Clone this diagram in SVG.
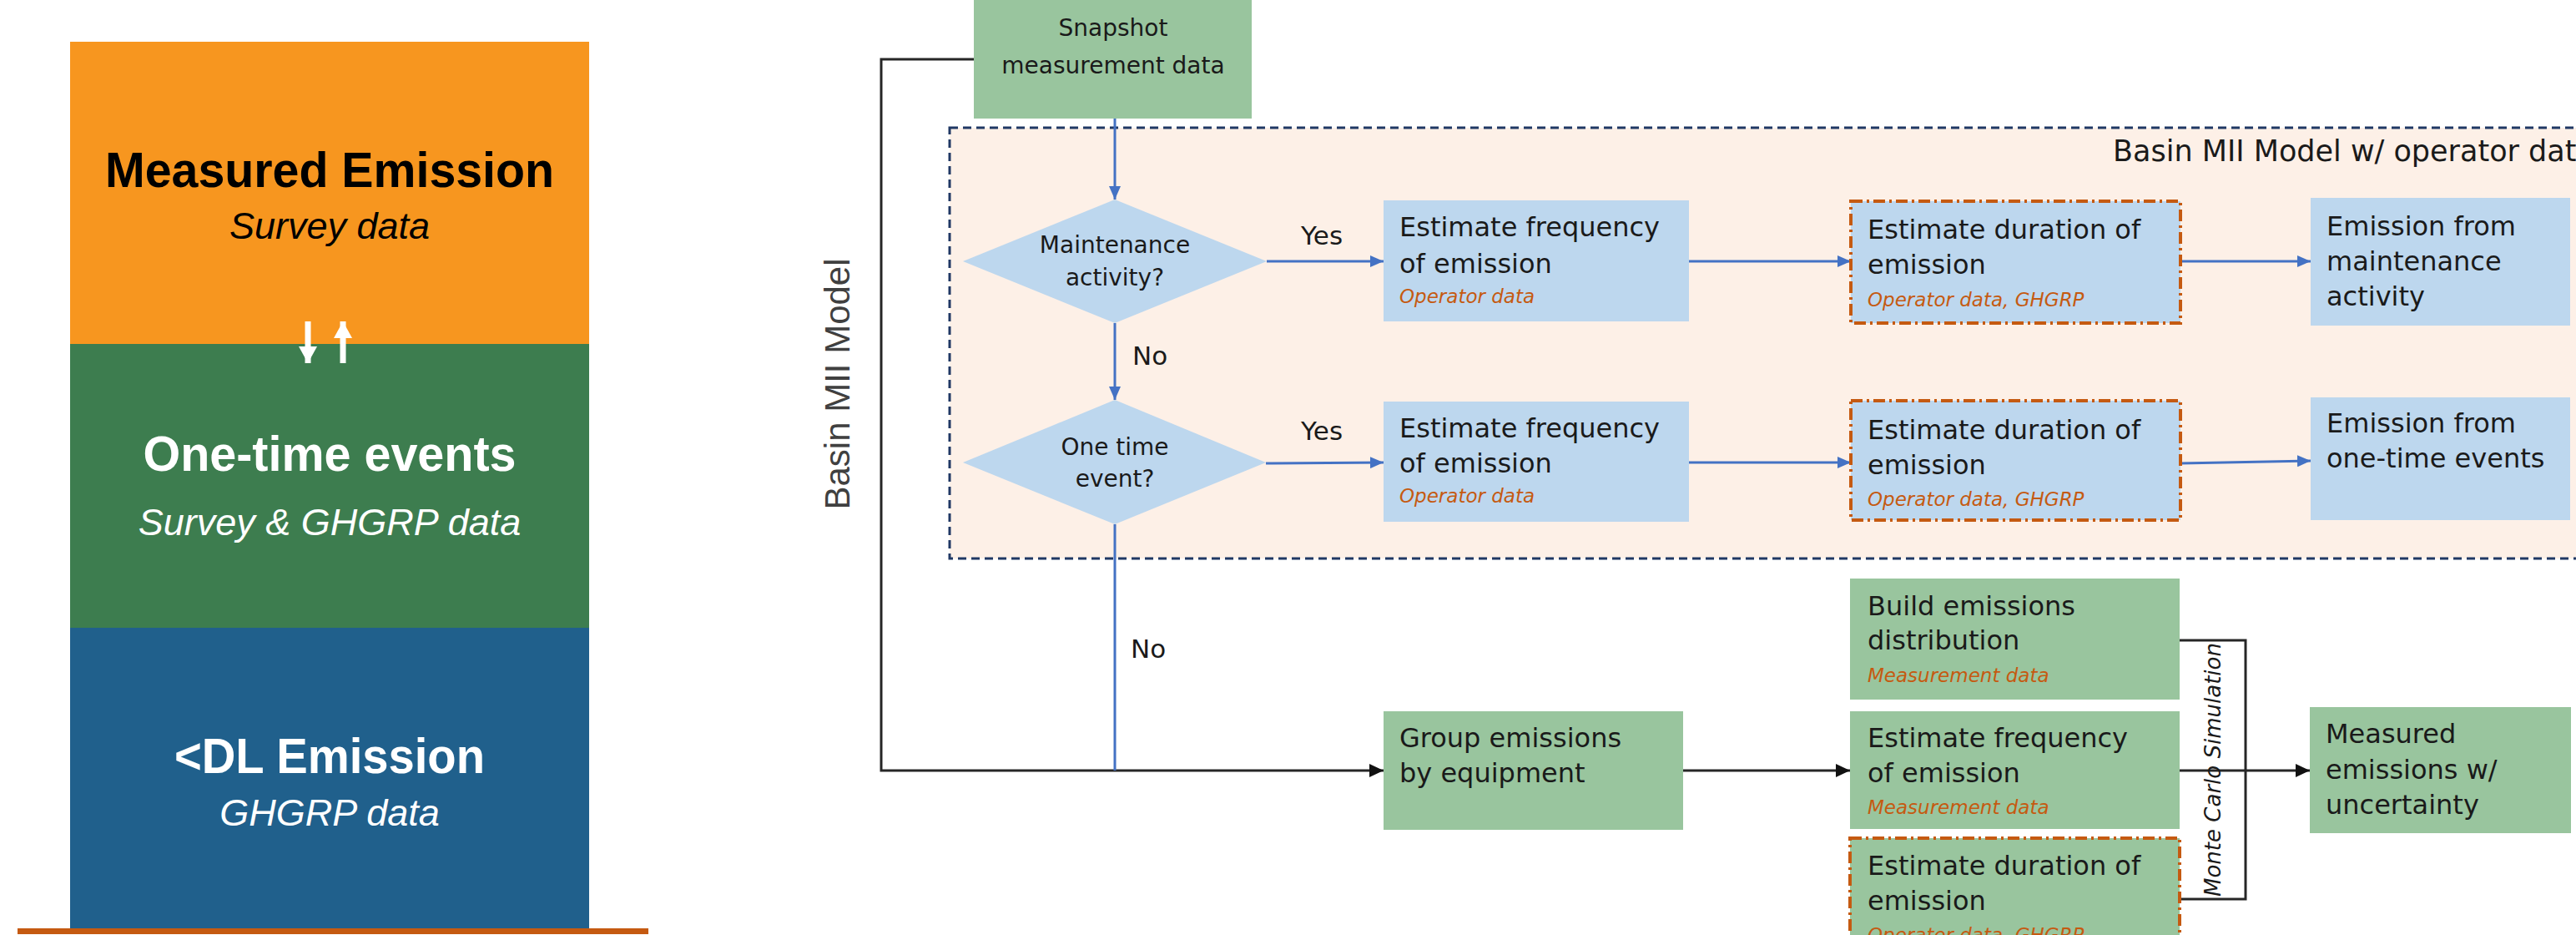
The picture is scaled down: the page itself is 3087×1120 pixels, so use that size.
<svg xmlns="http://www.w3.org/2000/svg" width="3087" height="1120" viewBox="0 0 3087 1120">
<style>
.big{font-family:"Liberation Sans",Arial,sans-serif;font-size:60px;font-weight:bold;text-anchor:middle}
.sub{font-family:"Liberation Sans",Arial,sans-serif;font-size:45px;font-style:italic;text-anchor:middle}
.t{font-family:"DejaVu Sans","Liberation Sans",sans-serif;font-size:32px;fill:#1a1a1a}
.d{font-family:"DejaVu Sans","Liberation Sans",sans-serif;font-size:28px;fill:#1a1a1a;text-anchor:middle}
.lbl{font-family:"DejaVu Sans","Liberation Sans",sans-serif;font-size:31px;fill:#1a1a1a}
.src{font-family:"DejaVu Sans","Liberation Sans",sans-serif;font-size:23px;font-style:italic;fill:#C55A11}
.gbox{fill:#99C59E}
.bbox{fill:#BDD7EE}
.dd{stroke:#C55A11;stroke-width:4;stroke-dasharray:14 5 3 5}
.blue{stroke:#4472C4;stroke-width:3;fill:none}
.blk{stroke:#262626;stroke-width:3;fill:none}
</style>
<defs>
<marker id="ab" markerUnits="userSpaceOnUse" markerWidth="16" markerHeight="14" refX="16" refY="7" orient="auto"><path d="M0,0 L16,7 L0,14 z" fill="#4472C4"/></marker>
<marker id="ak" markerUnits="userSpaceOnUse" markerWidth="17" markerHeight="16" refX="17" refY="8" orient="auto"><path d="M0,0 L17,8 L0,16 z" fill="#111"/></marker>
<marker id="aw" markerUnits="userSpaceOnUse" markerWidth="20" markerHeight="22" refX="20" refY="11" orient="auto"><path d="M0,0 L20,11 L0,22 z" fill="#fff"/></marker>
</defs>
<rect width="3087" height="1120" fill="#fff"/>

<!-- Left stacked panel -->
<g id="measured-emission">
<rect x="84" y="50" width="622" height="362" fill="#F7961F"/>
<text class="big" x="395" y="224" fill="#000" textLength="538" lengthAdjust="spacingAndGlyphs">Measured Emission</text>
<text class="sub" x="395" y="286" fill="#000">Survey data</text>
</g>
<g id="one-time-events">
<rect x="84" y="412" width="622" height="340" fill="#3D7D4F"/>
<text class="big" x="395" y="564" fill="#fff" textLength="447" lengthAdjust="spacingAndGlyphs">One-time events</text>
<text class="sub" x="395" y="641" fill="#fff">Survey &amp; GHGRP data</text>
</g>
<g id="dl-emission">
<rect x="84" y="752" width="622" height="362" fill="#20608C"/>
<text class="big" x="395" y="926" fill="#fff" textLength="372" lengthAdjust="spacingAndGlyphs">&lt;DL Emission</text>
<text class="sub" x="395" y="989" fill="#fff">GHGRP data</text>
</g>
<g id="left-arrows">
<line x1="369" y1="385" x2="369" y2="435" stroke="#fff" stroke-width="7" marker-end="url(#aw)"/>
<line x1="411" y1="435" x2="411" y2="385" stroke="#fff" stroke-width="7" marker-end="url(#aw)"/>
</g>
<rect x="21" y="1112" width="756" height="7" fill="#C55A11"/>

<!-- Container -->
<g id="container">
<rect x="1138" y="153" width="2000" height="516" fill="#FDF0E7" stroke="#203864" stroke-width="3" stroke-dasharray="10 6"/>
<text x="2532" y="193" font-family="DejaVu Sans, Liberation Sans, sans-serif" font-size="35" fill="#1a1a1a">Basin MII Model w/ operator data</text>
</g>
<text transform="translate(1018,460) rotate(-90)" text-anchor="middle" font-family="Liberation Sans, Arial, sans-serif" font-size="42" fill="#404040">Basin MII Model</text>

<!-- Connectors -->
<g id="connectors">
<polyline class="blk" points="1167,71 1056,71 1056,923 1658,923" marker-end="url(#ak)"/>
<line class="blue" x1="1336" y1="142" x2="1336" y2="239" marker-end="url(#ab)"/>
<line class="blue" x1="1518" y1="313" x2="1658" y2="313" marker-end="url(#ab)"/>
<line class="blue" x1="1336" y1="387" x2="1336" y2="479" marker-end="url(#ab)"/>
<line class="blue" x1="1517" y1="555" x2="1658" y2="554" marker-end="url(#ab)"/>
<line class="blue" x1="1336" y1="628" x2="1336" y2="923" stroke-width="2"/>
<line class="blue" x1="2024" y1="313" x2="2218" y2="313" marker-end="url(#ab)"/>
<line class="blue" x1="2613" y1="313" x2="2769" y2="313" marker-end="url(#ab)"/>
<line class="blue" x1="2024" y1="554" x2="2218" y2="554" marker-end="url(#ab)"/>
<line class="blue" x1="2613" y1="555" x2="2769" y2="552" marker-end="url(#ab)"/>
<line class="blk" x1="2017" y1="923" x2="2217" y2="923" marker-end="url(#ak)"/>
<polyline class="blk" points="2612,767 2691,767 2691,1077 2612,1077"/>
<line class="blk" x1="2612" y1="923" x2="2768" y2="923" marker-end="url(#ak)"/>
<text transform="translate(2661,922) rotate(-90)" text-anchor="middle" font-family="DejaVu Sans, Liberation Sans, sans-serif" font-size="26" font-style="italic" fill="#1a1a1a">Monte Carlo  Simulation</text>
<text class="lbl" x="1559" y="293">Yes</text>
<text class="lbl" x="1559" y="527">Yes</text>
<text class="lbl" x="1357" y="437">No</text>
<text class="lbl" x="1355" y="788">No</text>
</g>

<!-- Nodes -->
<g id="snapshot">
<rect class="gbox" x="1167" y="0" width="333" height="142"/>
<text class="d" x="1334" y="43" font-size="31">Snapshot</text>
<text class="d" x="1334" y="88" font-size="31">measurement data</text>
</g>
<g id="maintenance-decision">
<polygon class="bbox" points="1336,239 1518,313 1336,387 1154,313"/>
<text class="d" x="1336" y="303">Maintenance</text>
<text class="d" x="1336" y="342">activity?</text>
</g>
<g id="onetime-decision">
<polygon class="bbox" points="1336,479 1517,554 1336,628 1154,554"/>
<text class="d" x="1336" y="545">One time</text>
<text class="d" x="1336" y="583">event?</text>
</g>
<g id="freq-maint">
<rect class="bbox" x="1658" y="240" width="366" height="145"/>
<text class="t" x="1677" y="283">Estimate frequency</text>
<text class="t" x="1677" y="327">of emission</text>
<text class="src" x="1677" y="363">Operator data</text>
</g>
<g id="dur-maint">
<rect class="bbox dd" x="2218" y="241" width="395" height="146"/>
<text class="t" x="2238" y="286">Estimate duration of</text>
<text class="t" x="2238" y="328">emission</text>
<text class="src" x="2238" y="367">Operator data, GHGRP</text>
</g>
<g id="emis-maint">
<rect class="bbox" x="2769" y="237" width="311" height="153"/>
<text class="t" x="2788" y="282">Emission from</text>
<text class="t" x="2788" y="324">maintenance</text>
<text class="t" x="2788" y="366">activity</text>
</g>
<g id="freq-onetime">
<rect class="bbox" x="1658" y="481" width="366" height="144"/>
<text class="t" x="1677" y="524">Estimate frequency</text>
<text class="t" x="1677" y="566">of emission</text>
<text class="src" x="1677" y="602">Operator data</text>
</g>
<g id="dur-onetime">
<rect class="bbox dd" x="2218" y="480" width="395" height="143"/>
<text class="t" x="2238" y="526">Estimate duration of</text>
<text class="t" x="2238" y="568">emission</text>
<text class="src" x="2238" y="606">Operator data, GHGRP</text>
</g>
<g id="emis-onetime">
<rect class="bbox" x="2769" y="476" width="311" height="147"/>
<text class="t" x="2788" y="518">Emission from</text>
<text class="t" x="2788" y="560">one-time events</text>
</g>
<g id="group-equipment">
<rect class="gbox" x="1658" y="852" width="359" height="142"/>
<text class="t" x="1677" y="895">Group emissions</text>
<text class="t" x="1677" y="937">by equipment</text>
</g>
<g id="build-dist">
<rect class="gbox" x="2217" y="693" width="395" height="145"/>
<text class="t" x="2238" y="737">Build emissions</text>
<text class="t" x="2238" y="778">distribution</text>
<text class="src" x="2238" y="817">Measurement data</text>
</g>
<g id="freq-meas">
<rect class="gbox" x="2217" y="852" width="395" height="141"/>
<text class="t" x="2238" y="895">Estimate frequency</text>
<text class="t" x="2238" y="937">of emission</text>
<text class="src" x="2238" y="975">Measurement data</text>
</g>
<g id="dur-meas">
<rect class="gbox dd" x="2217" y="1004" width="395" height="160"/>
<text class="t" x="2238" y="1048">Estimate duration of</text>
<text class="t" x="2238" y="1090">emission</text>
<text class="src" x="2238" y="1128">Operator data, GHGRP</text>
</g>
<g id="measured-uncertainty">
<rect class="gbox" x="2768" y="847" width="313" height="151"/>
<text class="t" x="2787" y="890">Measured</text>
<text class="t" x="2787" y="933">emissions w/</text>
<text class="t" x="2787" y="975">uncertainty</text>
</g>
</svg>
